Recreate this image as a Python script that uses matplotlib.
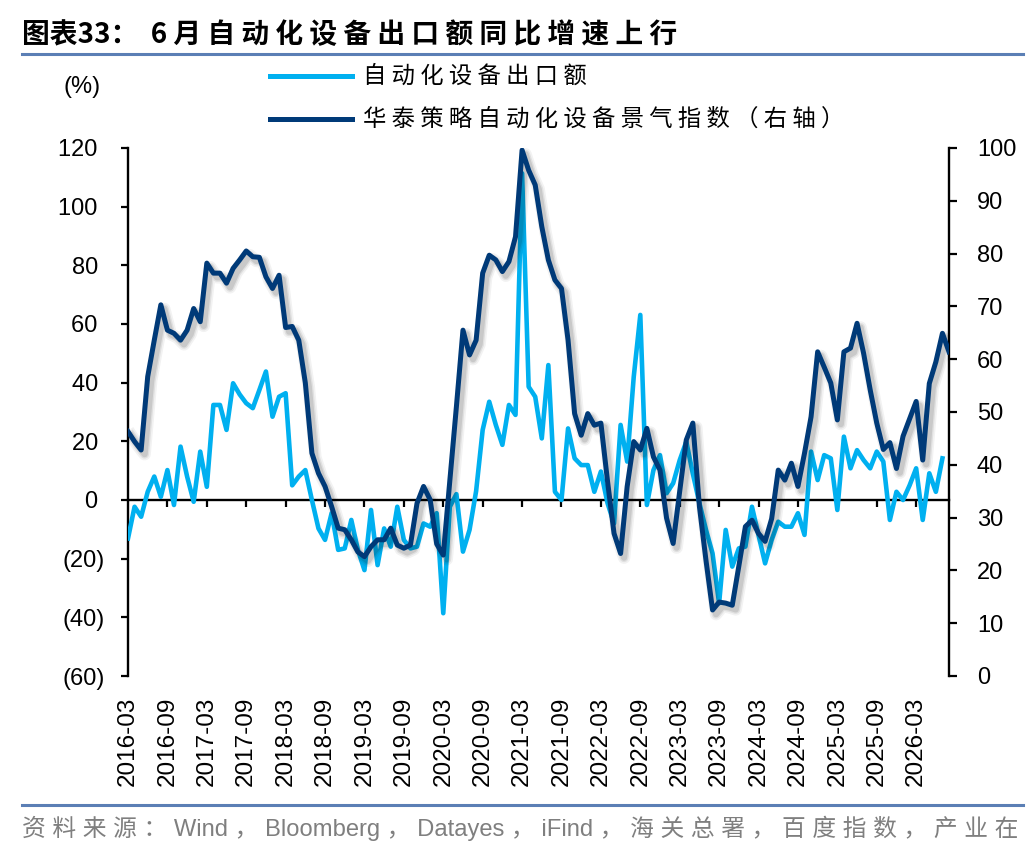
import matplotlib
matplotlib.use("Agg")
import matplotlib.pyplot as plt
import matplotlib.patheffects as pe
from matplotlib.lines import Line2D
from matplotlib.ticker import FuncFormatter
import numpy as np

plt.rcParams['font.family'] = ['Liberation Sans', 'Noto Sans CJK SC', 'DejaVu Sans']
CJK = ['Noto Sans CJK SC', 'DejaVu Sans']

# tick labels on the category axis (every 6th month)
x_labels = ['2016-03', '2016-09', '2017-03', '2017-09', '2018-03', '2018-09',
            '2019-03', '2019-09', '2020-03', '2020-09', '2021-03', '2021-09',
            '2022-03', '2022-09', '2023-03', '2023-09', '2024-03', '2024-09',
            '2025-03', '2025-09', '2026-03']

# 自动化设备出口额 yoy (%), left axis
export_yoy = [
    -13.1, -2.3, -5.7, 2.8, 8.0, 1.1, 10.2, -1.7, 18.2, 8.0,
    -0.6, 16.5, 4.5, 32.4, 32.4, 23.9, 39.8, 36.0, 33.0, 31.3,
    37.5, 43.8, 28.4, 35.2, 36.4, 5.0, 8.0, 10.2, 0.0, -9.7,
    -13.6, -4.5, -17.0, -16.5, -6.8, -17.0, -23.9, -3.4, -22.2, -9.7,
    -15.9, -2.3, -13.6, -16.5, -15.9, -8.0, -9.1, -4.5, -38.6, -2.3,
    2.0, -17.6, -10.2, 3.0, 23.9, 33.5, 25.6, 18.8, 32.4, 29.0,
    111.4, 38.6, 35.2, 21.0, 46.0, 2.8, 0.0, 24.4, 14.2, 11.9,
    11.9, 2.8, 9.7, -1.0, -8.0, 25.6, 13.1, 42.0, 63.1, -1.7,
    10.2, 15.3, 2.3, 5.7, 13.6, 19.9, 9.0, -1.1, -10.2, -18.2,
    -35.2, -10.2, -22.7, -16.5, -15.9, -2.3, -12.0, -21.6, -13.6, -7.4,
    -9.1, -9.1, -4.5, -11.9, 16.5, 6.8, 15.3, 14.2, -3.4, 21.6,
    10.8, 17.0, 13.6, 10.8, 16.5, 13.1, -6.8, 2.8, 0.0, 5.0,
    10.8, -6.8, 9.1, 2.8, 14.2,
]

# 华泰策略自动化设备景气指数, right axis
boom_index = [
    46.3, 44.4, 42.8, 56.7, 63.6, 70.3, 65.5, 64.9, 63.6, 65.5,
    69.6, 67.1, 78.2, 76.3, 76.3, 74.4, 77.2, 78.8, 80.5, 79.4,
    79.3, 75.6, 73.4, 75.9, 66.0, 66.2, 63.6, 55.5, 42.2, 38.4,
    35.9, 32.1, 28.0, 27.7, 25.8, 23.5, 22.6, 24.5, 25.8, 25.8,
    28.0, 24.8, 24.2, 24.8, 32.7, 35.9, 33.4, 25.0, 22.9, 37.0,
    51.0, 65.5, 60.8, 63.6, 76.3, 79.7, 78.8, 76.6, 78.5, 83.2,
    99.6, 95.8, 93.0, 85.1, 78.8, 75.0, 73.4, 63.6, 49.7, 45.6,
    49.7, 47.5, 47.9, 37.0, 27.0, 23.2, 35.9, 44.4, 42.8, 46.9,
    41.5, 39.0, 29.9, 25.1, 35.0, 44.7, 47.9, 32.1, 21.9, 12.5,
    14.0, 13.8, 13.4, 20.8, 28.3, 29.5, 27.0, 25.5, 29.8, 39.0,
    37.1, 40.3, 35.9, 42.2, 49.1, 61.4, 58.5, 55.5, 48.5, 61.4,
    62.1, 66.8, 61.1, 54.2, 47.9, 42.9, 44.2, 39.3, 45.4, 48.7,
    52.0, 40.9, 55.4, 59.5, 64.9, 61.4,
]

title_head = "图表33："
title_body = "6月自动化设备出口额同比增速上行"
legend_names = ["自动化设备出口额", "华泰策略自动化设备景气指数（右轴）"]
source = "资料来源：Wind，Bloomberg，Datayes，iFind，海关总署，百度指数，产业在"

LIGHT = '#00B0F0'
DARK = '#003A78'
RULE = '#5B7FB5'
W, H = 1036, 852


def spaced(s):
    # loose letter spacing of the original report layout
    out = ""
    for i, ch in enumerate(s):
        out += ch
        if i < len(s) - 1 and (ord(ch) > 0x2E80 or ord(s[i + 1]) > 0x2E80):
            out += " "
    return out


fig = plt.figure(figsize=(W / 100, H / 100), dpi=100)
ax = fig.add_axes([128 / W, 1 - 676 / H, (949 - 128) / W, (676 - 148) / H])
ax2 = ax.twinx()

ax.plot(np.arange(len(export_yoy)), export_yoy, color=LIGHT, lw=3.3,
        solid_joinstyle='round', zorder=3)

shadow = [pe.SimpleLineShadow(offset=(2.5, -3), shadow_color='k', alpha=a, linewidth=w)
          for a, w in ((0.05, 9), (0.07, 6.5), (0.1, 4.5))]
ax2.plot(np.arange(len(boom_index)), boom_index, color=DARK, lw=3.6,
         solid_joinstyle='round', path_effects=shadow + [pe.Normal()], zorder=3)

ax.set_xlim(0, len(boom_index) - 1)
ax.set_ylim(-60, 120)
ax2.set_ylim(0, 100)

for s in ['top', 'bottom', 'right']:
    ax.spines[s].set_visible(False)
for s in ['top', 'bottom', 'left']:
    ax2.spines[s].set_visible(False)
ax.spines['left'].set_linewidth(1.7)
ax2.spines['right'].set_linewidth(1.7)

ax.set_yticks(range(-60, 121, 20))
ax.yaxis.set_major_formatter(FuncFormatter(
    lambda v, p: "({:d})".format(int(-v)) if v < 0 else "{:d}\u2008".format(int(v))))
ax.tick_params(axis='y', direction='out', length=5, width=1.6, labelsize=17, pad=12)

ax2.set_yticks(range(0, 101, 10))
ax2.tick_params(axis='y', direction='out', length=6, width=1.6, labelsize=17, pad=14)

ax.set_xticks(range(0, 6 * len(x_labels), 6))
ax.set_xticklabels(x_labels, rotation=90)
ax.tick_params(axis='x', length=0, pad=15, labelsize=17.5)

# zero line with its own tick marks
zero = ax.secondary_xaxis(60 / 180)
zero.set_xticks(range(6, 6 * len(x_labels), 6))
zero.set_xticklabels([])
zero.tick_params(direction='out', length=5, width=1.6)
zero.spines['bottom'].set_linewidth(1.7)

fig.text(82 / W, 1 - 87 / H, "(%)", ha='center', va='center', size=17)

# legend
for k, (name, col) in enumerate(zip(legend_names, [LIGHT, DARK])):
    yy = 1 - (76 + 43 * k) / H
    fig.add_artist(Line2D([270 / W, 352 / W], [yy, yy], color=col, lw=3.6))
    fig.text(363 / W, yy, spaced(name), va='center', size=16.8, family=CJK)

fig.text(22 / W, 1 - 35 / H, title_head + "  " + spaced(title_body), va='center',
         size=20, weight='bold', family=CJK)
fig.add_artist(Line2D([22 / W, 1023 / W], [1 - 54 / H] * 2, color=RULE, lw=2.2))
fig.add_artist(Line2D([22 / W, 1023 / W], [1 - 805 / H] * 2, color=RULE, lw=2.2))
fig.text(22 / W, 1 - 828 / H, spaced(source), va='center', size=17.1, color='#7F7F7F')

fig.savefig("out.png", dpi=100)
